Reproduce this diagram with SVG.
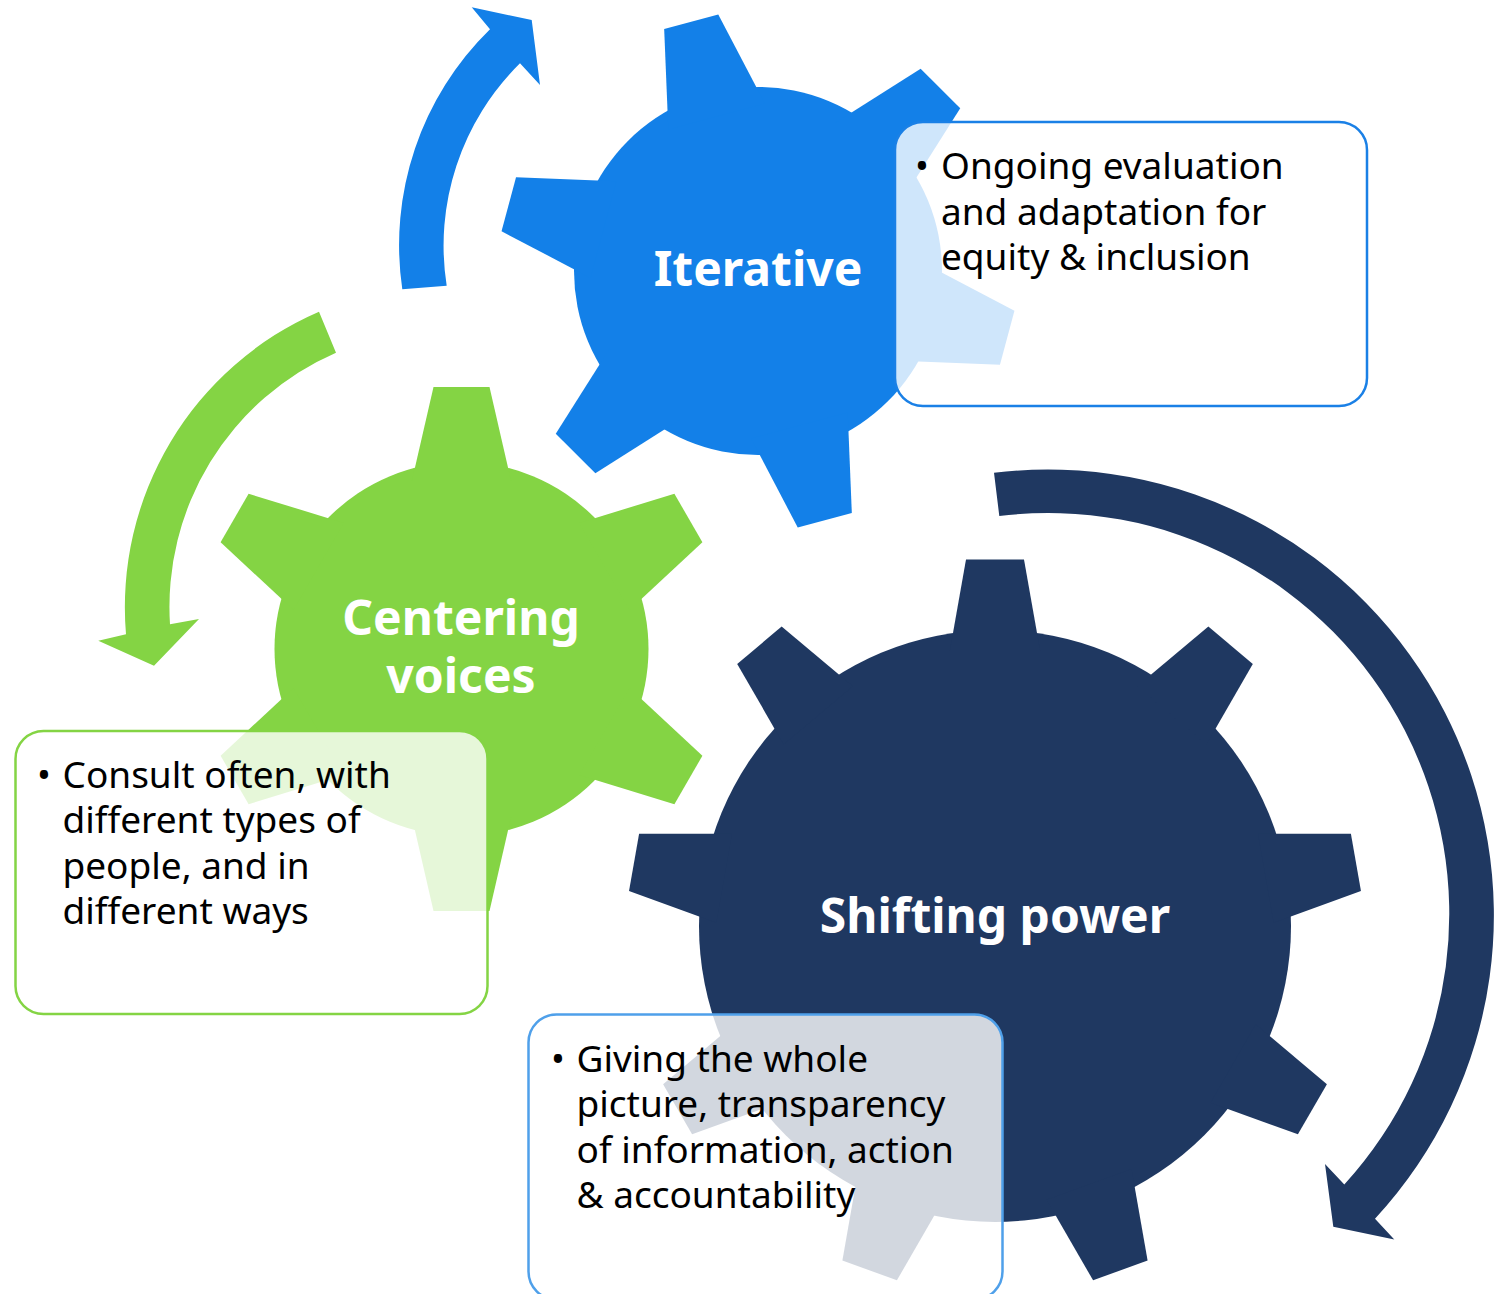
<svg xmlns="http://www.w3.org/2000/svg" xmlns:xlink="http://www.w3.org/1999/xlink" width="1511" height="1294" viewBox="0 0 1511 1294">
  <style>
    .blue { fill: #1380E8; }
    .green { fill: #84D444; }
    .navy { fill: #1F3861; }
    .label { font-family: "Noto Sans", "Open Sans", "DejaVu Sans", sans-serif; font-weight: bold; font-size: 48px; fill: #FFFFFF; text-anchor: middle; }
    .body { font-family: "Noto Sans", "Open Sans", "DejaVu Sans", sans-serif; font-size: 37px; fill: #000000; }
    .box { fill: #FFFFFF; fill-opacity: 0.8; stroke-width: 2.5; }
  </style>
  <defs>
    <path id="toothB" d="M-50,-160 L-28,-258 L28,-258 L50,-160 Z"/>
    <path id="toothG" d="M-50.3,-165 L-28,-262 L28,-262 L50.3,-165 Z"/>
    <path id="toothN" d="M-45.2,-275 L-29,-366.5 L29,-366.5 L45.2,-275 Z"/>
  </defs>

  <g id="gear-iterative" class="blue">
    <circle cx="758" cy="271" r="184"/>
    <use xlink:href="#toothB" transform="translate(758 271) rotate(-15)"/>
    <use xlink:href="#toothB" transform="translate(758 271) rotate(45)"/>
    <use xlink:href="#toothB" transform="translate(758 271) rotate(105)"/>
    <use xlink:href="#toothB" transform="translate(758 271) rotate(165)"/>
    <use xlink:href="#toothB" transform="translate(758 271) rotate(225)"/>
    <use xlink:href="#toothB" transform="translate(758 271) rotate(285)"/>
    <text class="label" x="758" y="286">Iterative</text>
  </g>

  <g id="gear-centering-voices" class="green">
    <circle cx="461.5" cy="649" r="187"/>
    <use xlink:href="#toothG" transform="translate(461.5 649) rotate(0)"/>
    <use xlink:href="#toothG" transform="translate(461.5 649) rotate(60)"/>
    <use xlink:href="#toothG" transform="translate(461.5 649) rotate(120)"/>
    <use xlink:href="#toothG" transform="translate(461.5 649) rotate(180)"/>
    <use xlink:href="#toothG" transform="translate(461.5 649) rotate(240)"/>
    <use xlink:href="#toothG" transform="translate(461.5 649) rotate(300)"/>
    <text class="label" x="461" y="635">Centering<tspan x="461" dy="58">voices</tspan></text>
  </g>

  <g id="gear-shifting-power" class="navy">
    <circle cx="995" cy="926" r="296"/>
    <use xlink:href="#toothN" transform="translate(995 926) rotate(0)"/>
    <use xlink:href="#toothN" transform="translate(995 926) rotate(40)"/>
    <use xlink:href="#toothN" transform="translate(995 926) rotate(80)"/>
    <use xlink:href="#toothN" transform="translate(995 926) rotate(120)"/>
    <use xlink:href="#toothN" transform="translate(995 926) rotate(160)"/>
    <use xlink:href="#toothN" transform="translate(995 926) rotate(200)"/>
    <use xlink:href="#toothN" transform="translate(995 926) rotate(240)"/>
    <use xlink:href="#toothN" transform="translate(995 926) rotate(280)"/>
    <use xlink:href="#toothN" transform="translate(995 926) rotate(320)"/>
    <text class="label" x="995" y="933">Shifting power</text>
  </g>

  <g id="connectors">
    <path id="arrow-blue" class="blue" d="M402.3,289.3 A302,302 0 0 1 490,29.3 L471.7,7.3 L531.7,20 L540,85 L520,63.3 A256,256 0 0 0 446.7,285.7 Z"/>
    <path id="arrow-green" class="green" d="M319,311.7 A322,322 0 0 0 126,634.3 L98.3,640.7 L154,665.7 L199,619 L170,624.3 A277,277 0 0 1 336,352.7 Z"/>
    <path id="arrow-navy" class="navy" d="M994,472.8 A446,446 0 0 1 1375,1218.7 L1394.3,1239.6 L1333.3,1226.8 L1325,1164 L1344.3,1184.5 A401,401 0 0 0 999.3,516 Z"/>
  </g>

  <g id="box-iterative">
    <rect class="box" x="895" y="122" width="472" height="284" rx="28" ry="28" stroke="#1A80E6"/>
    <text class="body" x="915" y="179">•<tspan x="941">Ongoing evaluation</tspan><tspan x="941" dy="45.5">and adaptation for</tspan><tspan x="941" dy="45.5">equity &amp; inclusion</tspan></text>
  </g>

  <g id="box-centering-voices">
    <rect class="box" x="15.5" y="731" width="472" height="283" rx="28" ry="28" stroke="#84D444"/>
    <text class="body" x="37" y="787.5">•<tspan x="62.5">Consult often, with</tspan><tspan x="62.5" dy="45.5">different types of</tspan><tspan x="62.5" dy="45.5">people, and in</tspan><tspan x="62.5" dy="45.5">different ways</tspan></text>
  </g>

  <g id="box-shifting-power">
    <rect class="box" x="528.5" y="1014.5" width="474" height="285" rx="28" ry="28" stroke="#4FA0EA"/>
    <text class="body" x="551" y="1071.5">•<tspan x="576.5">Giving the whole</tspan><tspan x="576.5" dy="45.5">picture, transparency</tspan><tspan x="576.5" dy="45.5">of information, action</tspan><tspan x="576.5" dy="45.5">&amp; accountability</tspan></text>
  </g>
</svg>
